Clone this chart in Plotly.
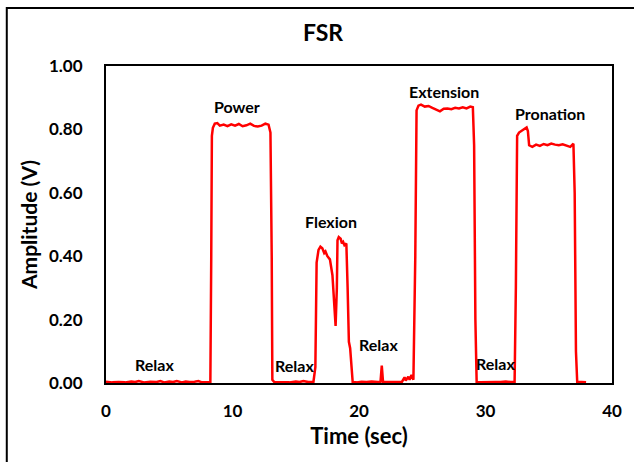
import plotly.graph_objects as go

time_s = [0, 0.5, 1, 1.5, 2, 2.3, 2.6, 3, 3.5, 4, 4.3, 4.6, 5, 5.3, 5.6, 6, 6.3, 6.6, 7, 7.3, 7.6, 8, 8.25,
          8.32, 8.37, 8.45, 8.6, 8.8, 9.0, 9.3, 9.6, 9.9, 10.2, 10.5, 10.8, 11.1, 11.4, 11.7, 12.0, 12.3, 12.6, 12.85, 13.0, 13.1, 13.15, 13.3,
          13.5, 14, 14.5, 15, 15.3, 15.6, 16, 16.4,
          16.55, 16.65, 16.8, 16.95, 17.1, 17.25, 17.35, 17.5, 17.7, 17.9, 18.05, 18.15, 18.25, 18.3, 18.4, 18.55, 18.65, 18.75, 18.85, 19.0, 19.1, 19.2, 19.3, 19.4, 19.5,
          19.8, 20.2, 20.6, 21.0, 21.5, 21.7, 21.8, 21.9, 22.3, 22.7, 23.1, 23.4, 23.6, 23.7, 23.9, 24.0, 24.15, 24.3,
          24.45, 24.55, 24.7, 24.9, 25.2, 25.5, 25.8, 26.1, 26.4, 26.7, 27.0, 27.3, 27.6, 27.9, 28.2, 28.5, 28.8, 29.0, 29.1, 29.2, 29.3,
          29.6, 30, 30.4, 30.8, 31.2, 31.6, 32.0, 32.3,
          32.4, 32.5, 32.65, 32.85, 33.05, 33.25, 33.35, 33.45, 33.7, 34.0, 34.3, 34.6, 34.9, 35.2, 35.5, 35.8, 36.1, 36.4, 36.7, 36.95, 37.05, 37.15, 37.25, 37.6, 37.95]

amplitude_v = [0.004, 0.002, 0.003, 0.002, 0.005, 0.003, 0.006, 0.002, 0.004, 0.003, 0.006, 0.002, 0.005, 0.003, 0.006, 0.002, 0.005, 0.003, 0.004, 0.006, 0.002, 0.003, 0.003,
               0.4, 0.78, 0.805, 0.818, 0.82, 0.812, 0.815, 0.81, 0.816, 0.812, 0.817, 0.81, 0.813, 0.818, 0.811, 0.809, 0.812, 0.818, 0.815, 0.79, 0.4, 0.01, 0.003,
               0.003, 0.004, 0.002, 0.005, 0.003, 0.006, 0.003, 0.004,
               0.05, 0.38, 0.42, 0.43, 0.425, 0.41, 0.415, 0.40, 0.39, 0.34, 0.25, 0.18, 0.30, 0.45, 0.46, 0.455, 0.44, 0.445, 0.435, 0.44, 0.30, 0.13, 0.11, 0.04, 0.003,
               0.002, 0.004, 0.003, 0.005, 0.003, 0.004, 0.055, 0.004, 0.003, 0.004, 0.005, 0.004, 0.018, 0.008, 0.02, 0.01, 0.025, 0.01,
               0.4, 0.86, 0.875, 0.878, 0.872, 0.874, 0.868, 0.862, 0.857, 0.865, 0.866, 0.864, 0.868, 0.866, 0.87, 0.866, 0.872, 0.87, 0.75, 0.2, 0.003,
               0.002, 0.003, 0.004, 0.003, 0.003, 0.005, 0.003, 0.004,
               0.3, 0.78, 0.79, 0.795, 0.8, 0.806, 0.795, 0.75, 0.745, 0.752, 0.748, 0.754, 0.75, 0.755, 0.752, 0.75, 0.753, 0.748, 0.745, 0.755, 0.6, 0.1, 0.003, 0.003, 0.002]

label_text = ["Relax", "Power", "Relax", "Flexion", "Relax", "Extension", "Relax", "Pronation"]
label_t = [3.84, 10.35, 14.9, 17.8, 21.57, 26.75, 30.8, 35.1]
label_v = [0.057, 0.871, 0.054, 0.508, 0.123, 0.921, 0.06, 0.849]

x_ticks = [0, 10, 20, 30, 40]
y_ticks = [0.0, 0.2, 0.4, 0.6, 0.8, 1.0]

FONT = "Lato, 'Open Sans', sans-serif"

fig = go.Figure()
fig.add_trace(go.Scatter(x=time_s, y=amplitude_v, mode="lines",
                         line=dict(color="#ff0000", width=2.5), showlegend=False))

for txt, t, v in zip(label_text, label_t, label_v):
    fig.add_annotation(x=t, y=v, text="<b>%s</b>" % txt, showarrow=False,
                       font=dict(family=FONT, size=16, color="black"))

fig.update_layout(
    width=634, height=462,
    margin=dict(l=106, r=18, t=66, b=79),
    paper_bgcolor="white", plot_bgcolor="white",
    font=dict(family=FONT, color="black"),
    title=dict(text="<b>FSR</b>", x=(323 - 0) / 634, xanchor="center", y=1 - 33 / 462, yanchor="middle",
               font=dict(family=FONT, size=23, color="black")),
    xaxis=dict(range=[0, 40], tickvals=x_ticks, ticktext=["<b>%d</b>" % v for v in x_ticks],
               showgrid=False, zeroline=False, showline=True, linecolor="black", linewidth=2,
               mirror=True, ticks="", ticklabelstandoff=12,
               tickfont=dict(family=FONT, size=17, color="black"),
               title=dict(text="<b>Time (sec)</b>", font=dict(family=FONT, size=22, color="black"), standoff=8)),
    yaxis=dict(range=[0, 1.0], tickvals=y_ticks, ticktext=["<b>%.2f</b>" % v for v in y_ticks],
               showgrid=False, zeroline=False, showline=True, linecolor="black", linewidth=2,
               mirror=True, ticks="", ticklabelstandoff=18,
               tickfont=dict(family=FONT, size=17, color="black"),
               title=dict(text="<b>Amplitude (V)</b>", font=dict(family=FONT, size=21, color="black"), standoff=6)),
)

# outer chart border (extends beyond the visible page on right/bottom)
fig.add_shape(type="rect", xref="paper", yref="paper",
              x0=(6 - 106) / 510, x1=(645 - 106) / 510,
              y0=(383 - 475) / 317, y1=(383 - 8) / 317,
              line=dict(color="black", width=2), fillcolor="rgba(0,0,0,0)", layer="below")

fig.write_html("out.html")
